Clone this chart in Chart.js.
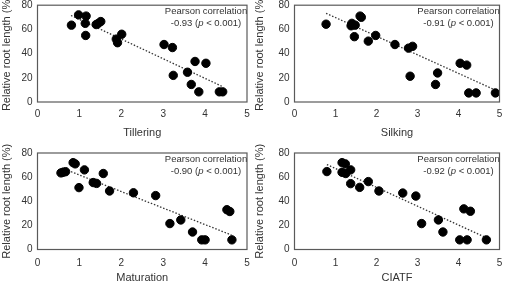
<!DOCTYPE html>
<html lang="en">
<head>
<meta charset="UTF-8">
<title>Relative root length vs stage</title>
<script src="https://cdn.jsdelivr.net/npm/chart.js"></script>
<style>
    body { margin: 0; background: #fff; }
    #wrap { position: relative; width: 506px; height: 282px; overflow: hidden; }
    .panel { position: absolute; }
</style>
</head>
<body>
<div id="wrap">
    <div class="panel" style="left:0;top:0"><canvas id="c1" width="253" height="141"></canvas></div>
    <div class="panel" style="left:253px;top:0"><canvas id="c2" width="253" height="141"></canvas></div>
    <div class="panel" style="left:0;top:141px"><canvas id="c3" width="253" height="141"></canvas></div>
    <div class="panel" style="left:253px;top:141px"><canvas id="c4" width="253" height="141"></canvas></div>
</div>
<script>
// values
const tilleringX = [0.81, 0.98, 1.16, 1.14, 1.15, 1.40, 1.45, 1.51, 1.88, 1.91, 2.01, 3.02, 3.22, 3.24, 3.58, 3.76, 3.67, 3.85, 4.02, 4.34, 4.42];
const tilleringY = [63.5, 72, 71, 65, 55, 64, 65, 66.5, 52, 49, 56, 47.5, 45, 22, 24.6, 33.5, 14.5, 8.4, 32, 8.4, 8.4];
const tilleringFitX = [0.8, 4.4];
const tilleringFitY = [71.5, 13];

const silkingX = [0.77, 1.38, 1.40, 1.48, 1.46, 1.60, 1.63, 1.80, 1.98, 2.45, 2.78, 2.88, 2.82, 3.44, 3.49, 4.04, 4.20, 4.25, 4.43, 4.90];
const silkingY = [64.3, 63, 65, 63.5, 54, 71, 70, 50.3, 55, 47.5, 44.5, 46, 21.3, 14.5, 24, 32, 30.5, 7.5, 7.5, 7.5];
const silkingFitX = [0.77, 4.92];
const silkingFitY = [73.3, 9.5];

const maturationX = [0.56, 0.61, 0.67, 0.85, 0.90, 1.12, 0.99, 1.33, 1.41, 1.57, 1.72, 2.29, 2.82, 3.16, 3.42, 3.70, 3.92, 4.00, 4.52, 4.59, 4.64];
const maturationY = [63.5, 64, 64.5, 72, 71, 66, 51.3, 55.5, 54.8, 63, 48.5, 47, 44.7, 21.5, 24.5, 14.5, 8, 8, 33, 31.5, 8];
const maturationFitX = [0.58, 4.63];
const maturationFitY = [67.5, 12];

const ciatfX = [0.79, 1.16, 1.24, 1.16, 1.25, 1.37, 1.37, 1.59, 1.80, 2.06, 2.64, 2.96, 3.10, 3.51, 3.62, 4.03, 4.21, 4.13, 4.29, 4.68];
const ciatfY = [64.6, 72, 71, 64, 63, 66, 54.6, 51.5, 56.3, 48.5, 46.8, 44.3, 21.5, 24.5, 14.5, 8, 8, 33.7, 31.7, 8];
const ciatfFitX = [0.79, 4.66];
const ciatfFitY = [70.4, 10];

const xTicks = [0, 1, 2, 3, 4, 5];
const yTicks = [0, 20, 40, 60, 80];

const FONT = 'Liberation Sans, Arial, sans-serif';
const TEXT = '#333333';

// plot box + correlation note
const boxPlugin = {
    id: 'boxNote',
    afterDatasetsDraw(chart, args, opts) {
        const a = chart.chartArea;
        const ctx = chart.ctx;
        ctx.save();
        ctx.strokeStyle = '#5a5a5a';
        ctx.lineWidth = 1.2;
        ctx.strokeRect(a.left, a.top, a.right - a.left, a.bottom - a.top);

        const cx = a.right - 41;
        const f = '9.5px ' + FONT, fi = 'italic 9.5px ' + FONT;
        ctx.fillStyle = TEXT;
        ctx.textBaseline = 'middle';
        ctx.textAlign = 'left';
        ctx.font = f;
        const l1 = 'Pearson correlation';
        ctx.fillText(l1, cx - ctx.measureText(l1).width / 2, a.top + 6.5);

        const pre = opts.r + ' (', post = ' < 0.001)';
        const w1 = ctx.measureText(pre).width, w3 = ctx.measureText(post).width;
        ctx.font = fi;
        const w2 = ctx.measureText('p').width;
        const x = cx - (w1 + w2 + w3) / 2;
        const y = a.top + 18.5;
        ctx.font = f;
        ctx.fillText(pre, x, y);
        ctx.font = fi;
        ctx.fillText('p', x + w1, y);
        ctx.font = f;
        ctx.fillText(post, x + w1 + w2, y);
        ctx.restore();
    }
};

function makeChart(id, xs, ys, fx, fy, label, r, box) {
    const pts = xs.map((v, i) => ({ x: v, y: ys[i] }));
    const fit = fx.map((v, i) => ({ x: v, y: fy[i] }));
    return new Chart(document.getElementById(id), {
        type: 'scatter',
        data: {
            datasets: [
                {
                    type: 'line',
                    data: fit,
                    borderColor: '#333333',
                    borderWidth: 1.3,
                    borderDash: [1.5, 1.8],
                    pointRadius: 0,
                    fill: false,
                    order: 2
                },
                {
                    data: pts,
                    backgroundColor: '#000000',
                    borderColor: '#000000',
                    pointRadius: 4.2,
                    order: 1
                }
            ]
        },
        options: {
            responsive: false,
            animation: false,
            layout: { padding: { top: box.top, right: 253 - box.right, left: 0, bottom: 0 } },
            plugins: {
                legend: { display: false },
                tooltip: { enabled: false },
                boxNote: { r: r }
            },
            scales: {
                x: {
                    type: 'linear',
                    min: 0, max: 5,
                    afterBuildTicks: s => { s.ticks = xTicks.map(v => ({ value: v })); },
                    afterFit: s => { s.height = 141 - box.bottom; s.paddingLeft = 0; s.paddingRight = 0; },
                    grid: { display: false, drawTicks: false },
                    border: { display: false },
                    ticks: { padding: box.tp, color: TEXT, font: { family: FONT, size: 10 }, maxRotation: 0 },
                    title: { display: true, text: label, color: TEXT, font: { family: FONT, size: 11, lineHeight: box.lh }, padding: { top: 0, bottom: box.tb } }
                },
                y: {
                    min: 0, max: 80,
                    afterBuildTicks: s => { s.ticks = yTicks.map(v => ({ value: v })); },
                    afterFit: s => { s.width = box.left; s.paddingTop = 0; s.paddingBottom = 0; },
                    grid: { display: false, drawTicks: false },
                    border: { display: false },
                    ticks: { padding: 5, color: TEXT, font: { family: FONT, size: 10 } },
                    title: { display: true, text: 'Relative root length (%)', color: TEXT, font: { family: FONT, size: 11 }, padding: { top: 0, bottom: 0 } }
                }
            }
        },
        plugins: [boxPlugin]
    });
}

makeChart('c1', tilleringX, tilleringY, tilleringFitX, tilleringFitY, 'Tillering', '-0.93', { left: 37.5, right: 247, top: 5, bottom: 102, tp: 6.5, tb: 2, lh: 1.1 });
makeChart('c2', silkingX, silkingY, silkingFitX, silkingFitY, 'Silking', '-0.91', { left: 41.5, right: 246.5, top: 5, bottom: 102, tp: 6.5, tb: 2, lh: 1.1 });
makeChart('c3', maturationX, maturationY, maturationFitX, maturationFitY, 'Maturation', '-0.90', { left: 37.5, right: 247, top: 12, bottom: 108.5, tp: 7.5, tb: 0, lh: 0.8 });
makeChart('c4', ciatfX, ciatfY, ciatfFitX, ciatfFitY, 'CIATF', '-0.92', { left: 41.5, right: 246.5, top: 12, bottom: 108.5, tp: 7.5, tb: 0, lh: 0.8 });
</script>
</body>
</html>
